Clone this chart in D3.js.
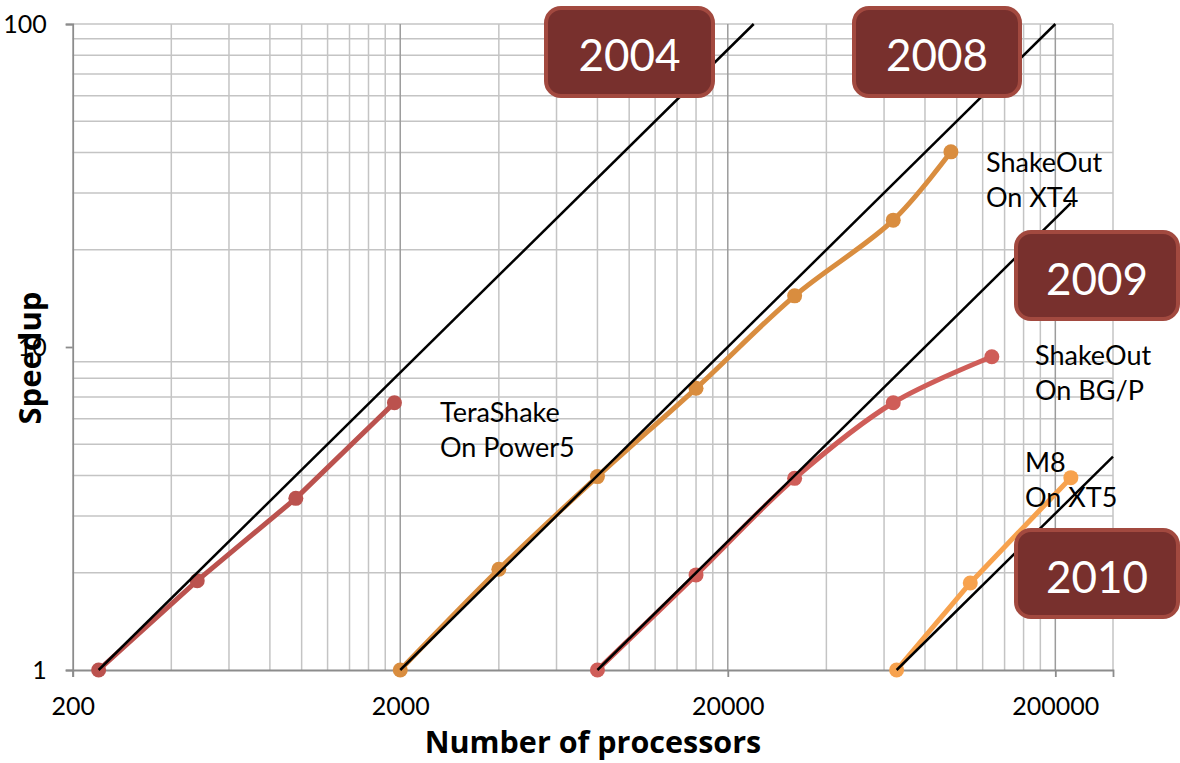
<!DOCTYPE html>
<html lang="en">
<head>
  <meta charset="UTF-8">
  <title>Speedup vs Number of processors</title>
  <script src="https://d3js.org/d3.v7.min.js"></script>
  <style>
    body {
      margin: 0;
      padding: 0;
      background: #fff;
      font-family: Lato, "Open Sans", sans-serif;
    }
    svg text { fill: #000; }
    .box text { fill: #fff; }
  </style>
</head>
<body>
  <div id="chart"></div>
  <script>
  // TeraShake on Power5
  const teraProcs = [240, 480, 960, 1920];
  const teraSpeedup = [1, 1.89, 3.4, 6.72];
  // ShakeOut on XT4
  const xt4Procs = [2000, 4000, 8000, 16000, 32000, 64000, 96000];
  const xt4Speedup = [1, 2.05, 3.97, 7.45, 14.4, 24.7, 40.2];
  // ShakeOut on BG/P
  const bgpProcs = [8000, 16000, 32000, 64000, 128000];
  const bgpSpeedup = [1, 1.97, 3.92, 6.72, 9.33];
  // M8 on XT5
  const m8Procs = [65536, 110000, 223074];
  const m8Speedup = [1, 1.86, 3.94];

  // ideal (linear) scaling lines, one per year
  const idealYears = ["2004", "2008", "2009", "2010"];
  const idealStart = [240, 2000, 8000, 65536];
  const idealEnd = [24000, 200000, 223074, 300000];

  const xTickValues = [200, 2000, 20000, 200000];
  const yTickValues = [1, 10, 100];

  const width = 1180, height = 763;
  const plotL = 72.7, plotR = 1113, plotT = 24, plotB = 670;

  const svg = d3.select("#chart").append("svg")
    .attr("width", width).attr("height", height);

  const x = d3.scaleLog().domain([200, 300000]).range([plotL, plotR]);
  const y = d3.scaleLog().domain([1, 100]).range([plotB, plotT]);

  // grid
  const minorX = [];
  [200, 2000, 20000].forEach(d => { for (let k = 2; k <= 9; k++) minorX.push(d * k); });
  const minorY = [];
  [1, 10].forEach(d => { for (let k = 2; k <= 9; k++) minorY.push(d * k); });

  const grid = svg.append("g");
  grid.selectAll(".mx").data(minorX).enter().append("line")
    .attr("x1", d => x(d)).attr("x2", d => x(d))
    .attr("y1", plotT).attr("y2", plotB)
    .attr("stroke", "#c4c4c4").attr("stroke-width", 1.5);
  grid.selectAll(".my").data(minorY.concat([100])).enter().append("line")
    .attr("x1", plotL).attr("x2", plotR)
    .attr("y1", d => y(d)).attr("y2", d => y(d))
    .attr("stroke", "#c4c4c4").attr("stroke-width", 1.5);
  grid.append("line")
    .attr("x1", plotR).attr("x2", plotR).attr("y1", plotT).attr("y2", plotB)
    .attr("stroke", "#c4c4c4").attr("stroke-width", 1.5);
  grid.selectAll(".MX").data(xTickValues.slice(1)).enter().append("line")
    .attr("x1", d => x(d)).attr("x2", d => x(d))
    .attr("y1", plotT).attr("y2", plotB)
    .attr("stroke", "#9c9c9c").attr("stroke-width", 1.5);

  // axes
  const xAxis = d3.axisBottom(x).tickValues(xTickValues).tickFormat(d3.format("d"))
    .tickSize(7).tickPadding(20);
  const yAxis = d3.axisLeft(y).tickValues(yTickValues).tickFormat(d3.format("d"))
    .tickSize(7).tickPadding(19);

  const gx = svg.append("g").attr("transform", `translate(0,${plotB})`).call(xAxis);
  const gy = svg.append("g").attr("transform", `translate(${plotL},0)`).call(yAxis);
  [gx, gy].forEach(g => {
    g.select(".domain").attr("stroke", "#8c8c8c").attr("stroke-width", 1.8);
    g.selectAll(".tick line").attr("stroke", "#8c8c8c").attr("stroke-width", 1.8);
    g.selectAll("text").style("font-family", "Lato").style("font-size", "25px").attr("fill", "#000");
  });
  gy.selectAll("text").attr("dy", "0.35em");

  // series
  const series = [
    { procs: teraProcs, speed: teraSpeedup, color: "#bb524e", curve: d3.curveLinear },
    { procs: xt4Procs, speed: xt4Speedup, color: "#d98d3f", curve: d3.curveCatmullRom },
    { procs: bgpProcs, speed: bgpSpeedup, color: "#cf5d58", curve: d3.curveCatmullRom },
    { procs: m8Procs, speed: m8Speedup, color: "#f7a24e", curve: d3.curveLinear }
  ];

  series.forEach(s => {
    const pts = s.procs.map((p, i) => [x(p), y(s.speed[i])]);
    svg.append("path")
      .attr("d", d3.line().curve(s.curve)(pts))
      .attr("fill", "none").attr("stroke", s.color)
      .attr("stroke-width", 5).attr("stroke-linejoin", "round");
    svg.selectAll(null).data(pts).enter().append("circle")
      .attr("cx", d => d[0]).attr("cy", d => d[1]).attr("r", 7.5)
      .attr("fill", s.color);
  });

  // ideal scaling lines
  svg.selectAll(".ideal").data(idealStart).enter().append("line")
    .attr("x1", d => x(d)).attr("y1", y(1))
    .attr("x2", (d, i) => x(idealEnd[i])).attr("y2", (d, i) => y(idealEnd[i] / d))
    .attr("stroke", "#000").attr("stroke-width", 2.5);

  // series labels
  const labels = [
    { lines: ["TeraShake", "On Power5"], x: 440, y: 421.7 },
    { lines: ["ShakeOut", "On XT4"], x: 986, y: 171.7 },
    { lines: ["ShakeOut", "On BG/P"], x: 1035, y: 365 },
    { lines: ["M8", "On XT5"], x: 1025, y: 471.7 }
  ];
  labels.forEach(l => {
    l.lines.forEach((t, i) => {
      svg.append("text").attr("x", l.x).attr("y", l.y + i * 35)
        .style("font-family", "Lato").style("font-size", "27px").text(t);
    });
  });

  // year boxes
  const boxes = [
    { x: 546, y: 8, w: 167, h: 88 },
    { x: 854, y: 8, w: 166, h: 88 },
    { x: 1016, y: 232, w: 162, h: 87 },
    { x: 1016, y: 530, w: 162, h: 87 }
  ];
  boxes.forEach((b, i) => {
    const g = svg.append("g").attr("class", "box");
    g.append("rect").attr("x", b.x).attr("y", b.y).attr("width", b.w).attr("height", b.h)
      .attr("rx", 15).attr("fill", "#78302d").attr("stroke", "#a2493f").attr("stroke-width", 4);
    g.append("text").attr("x", b.x + b.w / 2).attr("y", b.y + b.h / 2 + 19)
      .attr("text-anchor", "middle")
      .style("font-family", "Lato").style("font-size", "44px")
      .text(idealYears[i]);
  });

  // axis titles
  svg.append("text").attr("x", 593).attr("y", 753).attr("text-anchor", "middle")
    .style("font-family", "Open Sans").style("font-weight", "bold").style("font-size", "30.5px")
    .text("Number of processors");
  svg.append("text").attr("transform", "translate(41,358) rotate(-90)")
    .attr("text-anchor", "middle")
    .style("font-family", "Open Sans").style("font-weight", "bold").style("font-size", "31px")
    .text("Speedup");
  </script>
</body>
</html>
